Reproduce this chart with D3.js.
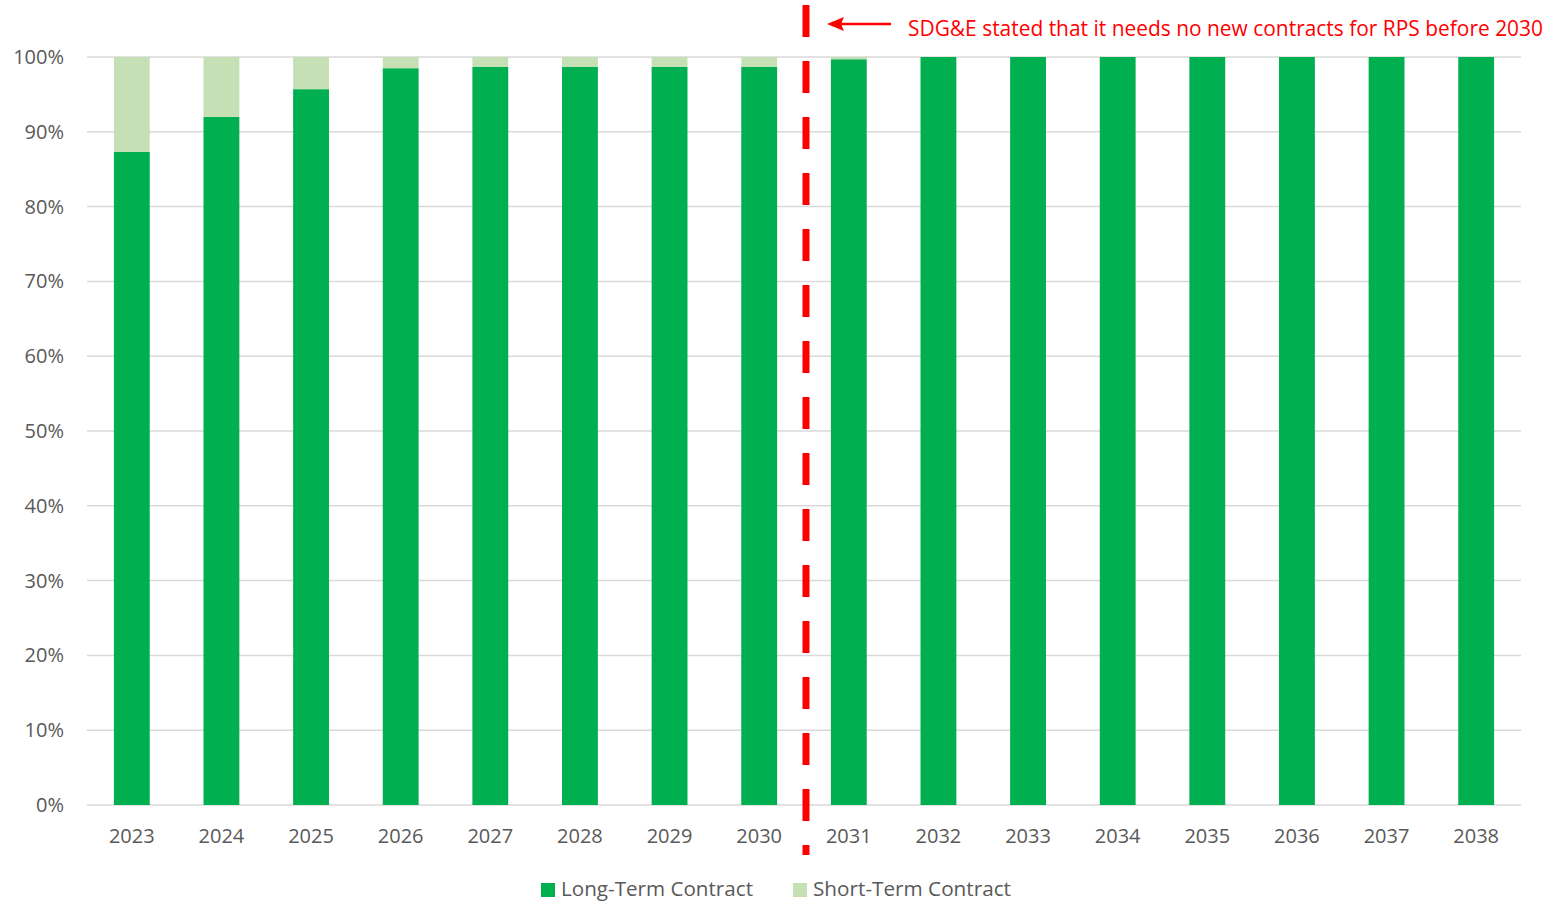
<!DOCTYPE html>
<html>
<head>
<meta charset="utf-8">
<title>RPS contracts</title>
<script src="https://d3js.org/d3.v7.min.js"></script>
<style>
    body { margin: 0; background: #fff; }
    svg { display: block; font-family: "Open Sans", sans-serif; }
</style>
</head>
<body>
<div id="chart"></div>
<script>
    const years = ["2023", "2024", "2025", "2026", "2027", "2028", "2029", "2030",
                   "2031", "2032", "2033", "2034", "2035", "2036", "2037", "2038"];
    const longTerm = [87.3, 92.0, 95.7, 98.5, 98.7, 98.7, 98.7, 98.7,
                      99.7, 100, 100, 100, 100, 100, 100, 100];
    const shortTerm = longTerm.map(v => +(100 - v).toFixed(1));
    const yTicks = [0, 10, 20, 30, 40, 50, 60, 70, 80, 90, 100];
    const seriesNames = ["Long-Term Contract", "Short-Term Contract"];
    const note = "SDG&E stated that it needs no new contracts for RPS before 2030";

    const width = 1547, height = 901;
    const margin = { top: 57, right: 26, bottom: 96, left: 87 };
    const colors = ["#00b050", "#c5e0b4"];

    const svg = d3.select("#chart").append("svg")
        .attr("width", width)
        .attr("height", height);

    const x = d3.scaleBand()
        .domain(years)
        .range([margin.left, width - margin.right])
        .paddingInner(0.6)
        .paddingOuter(0.3);

    const y = d3.scaleLinear()
        .domain([0, 100])
        .range([height - margin.bottom, margin.top]);

    // gridlines
    svg.append("g")
        .selectAll("line")
        .data(yTicks)
        .join("line")
        .attr("x1", margin.left)
        .attr("x2", width - margin.right)
        .attr("y1", d => y(d))
        .attr("y2", d => y(d))
        .attr("stroke", "#d9d9d9")
        .attr("stroke-width", 1.5);

    // y axis labels
    const yAxis = svg.append("g")
        .attr("transform", `translate(${margin.left - 23},0)`)
        .call(d3.axisLeft(y).tickValues(yTicks).tickFormat(d => d + "%").tickSize(0).tickPadding(0));
    yAxis.select(".domain").remove();
    yAxis.selectAll("text")
        .attr("fill", "#595959")
        .style("font-size", "20px")
        .style("font-family", "Open Sans, sans-serif");

    // x axis labels
    const xAxis = svg.append("g")
        .attr("transform", `translate(0,${y(0)})`)
        .call(d3.axisBottom(x).tickSize(0).tickPadding(24));
    xAxis.select(".domain").remove();
    xAxis.selectAll("text")
        .attr("fill", "#595959")
        .style("font-size", "20px")
        .style("font-family", "Open Sans, sans-serif");

    // stacked bars
    const rows = years.map((yr, i) => ({ year: yr, long: longTerm[i], short: shortTerm[i] }));
    const stack = d3.stack().keys(["long", "short"])(rows);

    svg.append("g")
        .selectAll("g")
        .data(stack)
        .join("g")
        .attr("fill", (d, i) => colors[i])
        .selectAll("rect")
        .data(d => d)
        .join("rect")
        .attr("x", d => x(d.data.year))
        .attr("width", x.bandwidth())
        .attr("y", d => y(d[1]))
        .attr("height", d => y(d[0]) - y(d[1]));

    // dashed divider between 2030 and 2031
    const divX = (x("2030") + x.bandwidth() + x("2031")) / 2 + 2;
    svg.append("line")
        .attr("x1", divX).attr("x2", divX)
        .attr("y1", 5).attr("y2", 855)
        .attr("stroke", "#ff0000")
        .attr("stroke-width", 7)
        .attr("stroke-dasharray", "32,24");

    // annotation arrow
    svg.append("line")
        .attr("x1", 891).attr("x2", 840)
        .attr("y1", 24).attr("y2", 24)
        .attr("stroke", "#ff0000")
        .attr("stroke-width", 2.5);
    svg.append("path")
        .attr("d", "M827,24 L844,17 L841,24 L844,31 Z")
        .attr("fill", "#ff0000");

    svg.append("text")
        .attr("x", 908)
        .attr("y", 36)
        .attr("fill", "#ff0000")
        .attr("textLength", 635)
        .attr("lengthAdjust", "spacingAndGlyphs")
        .style("font-size", "21px")
        .text(note);

    // legend
    const legend = svg.append("g")
        .attr("transform", "translate(541,883)");
    const items = legend.selectAll("g")
        .data(seriesNames)
        .join("g")
        .attr("transform", (d, i) => `translate(${i * 252},0)`);
    items.append("rect")
        .attr("width", 14).attr("height", 14)
        .attr("fill", (d, i) => colors[i]);
    items.append("text")
        .attr("x", 20).attr("y", 12.5)
        .attr("fill", "#595959")
        .attr("textLength", (d, i) => i === 0 ? 192 : 198)
        .attr("lengthAdjust", "spacingAndGlyphs")
        .style("font-size", "20px")
        .text(d => d);
</script>
</body>
</html>
